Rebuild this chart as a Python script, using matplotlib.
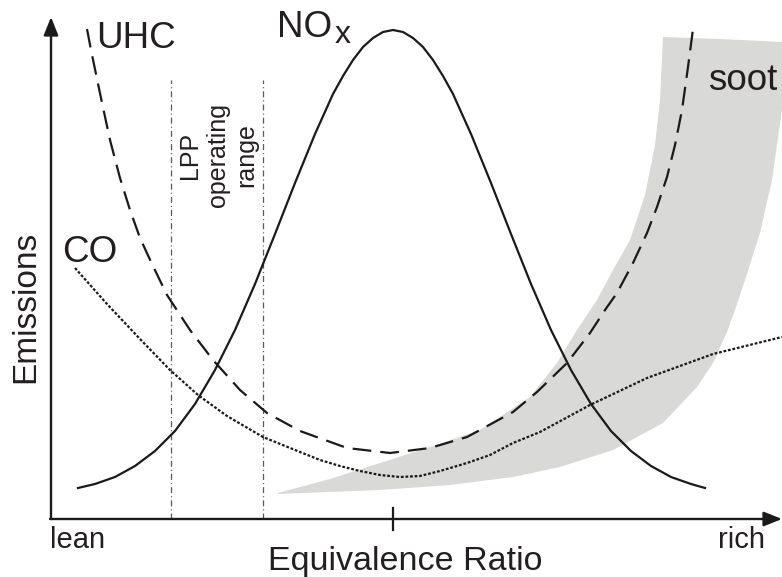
import matplotlib
matplotlib.use("Agg")
import matplotlib.pyplot as plt
from matplotlib.patches import Polygon

plt.rcParams["font.family"] = ["Liberation Sans", "DejaVu Sans"]
plt.rcParams["lines.scale_dashes"] = False

# Schematic emission trends versus equivalence ratio (arbitrary units).
# x: position along the equivalence-ratio axis, y: emission level.
stoich_x = 342

nox_x = [27, 44, 64, 84, 104, 124, 144, 164, 184, 204, 224, 244, 264,
         282, 292, 302, 312, 322, 332, 342, 352, 362, 372, 382, 392, 402,
         420, 440, 460, 480, 500, 520, 540, 560, 580, 600, 620, 640, 654]
nox_y = [31, 35, 42, 53, 68, 88, 115, 149, 189, 235, 285, 336, 385,
         425, 443, 459, 472, 481, 487, 489, 487, 481, 472, 459, 443, 425,
         385, 336, 285, 235, 189, 149, 115, 88, 68, 53, 42, 35, 31]

uhc_x = [36, 40, 45, 50, 59, 69, 79, 89, 101, 116, 139, 162, 189, 216, 249, 296, 339, 379,
         416, 429, 462, 486, 516, 539, 554, 566, 582, 596, 606, 616, 624, 631, 637, 642]
uhc_y = [490, 469, 445, 421, 379, 341, 309, 281, 255, 224, 189, 159, 129, 106, 88, 71, 66, 71,
         82, 89, 107, 127, 156, 186, 209, 226, 256, 286, 312, 342, 374, 409, 452, 490]

co_x = [24, 56, 89, 119, 147, 176, 212, 249, 269, 289, 309, 329, 349, 369, 389,
        416, 439, 462, 489, 539, 596, 662, 731]
co_y = [251, 215, 180, 149, 124, 103, 82, 67, 59, 53, 48, 44, 42, 43, 48,
        56, 64, 76, 87, 114, 141, 165, 182]

# soot band outline: lower-left tip, up the lean side, across the top, back down the rich side
soot_x = [227, 279, 329, 379, 429, 479, 506, 526, 546, 562, 579, 594, 604, 609, 612,
          669, 731,
          731, 721, 709, 694, 684, 676, 662, 646, 612, 562, 509, 462, 399, 329, 227]
soot_y = [26, 40, 56, 72, 89, 122, 156, 189, 219, 249, 279, 324, 374, 419, 482,
          480, 477,
          409, 339, 286, 239, 209, 187, 156, 132, 96, 69, 52, 42, 34, 29, 25]

lpp_x = [120, 212]
lpp_top = 439

W, H = 782, 577
fig = plt.figure(figsize=(W / 100, H / 100), dpi=100)
ax = fig.add_axes([51 / W, 58 / H, 731 / W, 502 / H])
ax.set_xlim(0, 731)
ax.set_ylim(0, 502)
ax.axis("off")

ink = "#1a1a1a"

# soot region
ax.add_patch(Polygon(list(zip(soot_x, soot_y)), closed=True,
                     facecolor="#d9d9d8", edgecolor="none", zorder=1))

# LPP operating range limits
for xv in lpp_x:
    ax.plot([xv, xv], [0, lpp_top], color="#5a5a5a", lw=0.9,
            dashes=(4.3, 2.2, 0.8, 2.2), zorder=2)

# emission curves
ax.plot(nox_x, nox_y, color=ink, lw=1.6, solid_joinstyle="round", zorder=3)
ax.plot(uhc_x, uhc_y, color=ink, lw=1.6, dashes=(13.5, 6.5), zorder=3)
ax.plot(co_x, co_y, color=ink, lw=1.6, dashes=(2.0, 1.3), zorder=3, clip_on=False)

# axes with arrowheads
arrow_kw = dict(arrowstyle="-|>,head_length=0.55,head_width=0.22", mutation_scale=20,
                color=ink, lw=1.7, shrinkA=0, shrinkB=0)
ax.annotate("", xy=(0, 502), xytext=(0, 0), arrowprops=arrow_kw, annotation_clip=False)
ax.annotate("", xy=(731, 0), xytext=(-1, 0), arrowprops=arrow_kw, annotation_clip=False)
ax.plot([stoich_x, stoich_x], [-11, 11], color=ink, lw=1.6, clip_on=False, zorder=4)

# labels
txt = "#231f20"
ax.text(45, 471, "UHC", fontsize=26.5, color=txt, ha="left", va="baseline")
ax.text(226, 482, "NO", fontsize=26.5, color=txt, ha="left", va="baseline")
ax.text(284, 476, "x", fontsize=23, color=txt, ha="left", va="baseline")
ax.text(11, 257, "CO", fontsize=26.5, color=txt, ha="left", va="baseline")
ax.text(657, 429, "soot", fontsize=26.5, color=txt, ha="left", va="baseline", clip_on=False)
ax.text(167, 364, "LPP\noperating\nrange", fontsize=18, color=txt, rotation=90,
        ha="center", va="center", multialignment="center", linespacing=1.2)

ax.text(-25, 212, "Emissions", fontsize=24, color=txt, rotation=90,
        ha="center", va="center", clip_on=False)
ax.text(354, -51, "Equivalence Ratio", fontsize=24.5, color=txt,
        ha="center", va="baseline", clip_on=False)
ax.text(-1, -29, "lean", fontsize=21, color=txt, ha="left", va="baseline", clip_on=False)
ax.text(714, -29, "rich", fontsize=21, color=txt, ha="right", va="baseline", clip_on=False)

fig.savefig("out.png", dpi=100, facecolor="white")
